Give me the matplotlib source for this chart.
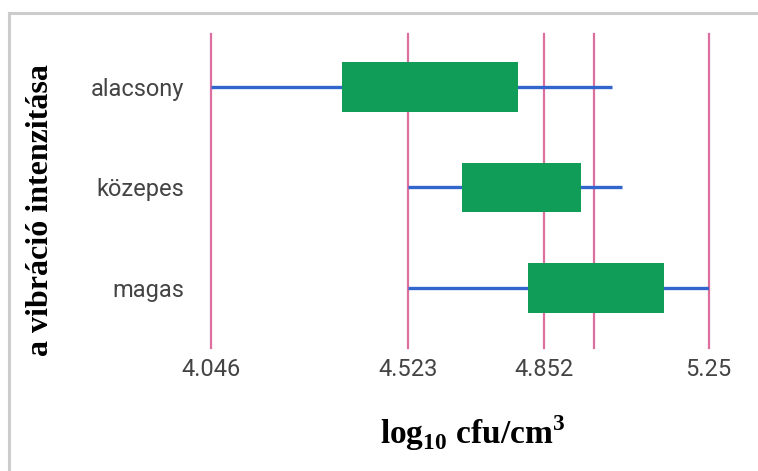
import matplotlib.pyplot as plt
from matplotlib.lines import Line2D

categories = ['alacsony', 'közepes', 'magas']
mins = [4.046, 4.523, 4.523]
q1 = [4.364, 4.653, 4.813]
q3 = [4.788, 4.942, 5.142]
maxs = [5.017, 5.041, 5.25]

tick_vals = [4.046, 4.523, 4.852, 4.973, 5.25]
tick_labels = ['4.046', '4.523', '4.852', '', '5.25']

fig = plt.figure(figsize=(7.58, 4.71), dpi=100)
ax = fig.add_axes([0.2781, 0.2611, 0.6566, 0.6667])

ypos = list(range(len(categories)))
ax.hlines(ypos, mins, maxs, color='#3366cc', linewidth=2.4, zorder=2)
widths = [b - a for a, b in zip(q1, q3)]
ax.barh(ypos, widths, left=q1, height=0.49, color='#109d58', zorder=3)

ax.set_xlim(4.046, 5.25)
ax.set_ylim(2.597, -0.527)
ax.set_xticks(tick_vals)
ax.set_xticklabels(tick_labels)
ax.set_yticks(ypos)
ax.set_yticklabels(categories)
ax.tick_params(length=0, labelsize=17, labelcolor='#444444')
ax.tick_params(axis='x', pad=7)
ax.tick_params(axis='y', pad=19)
for lab in ax.get_xticklabels() + ax.get_yticklabels():
    lab.set_family('Roboto')
ax.grid(axis='x', color='#db6fa0', linewidth=1.6)
for gl in ax.get_xgridlines():
    gl.set_clip_on(False)
ax.set_axisbelow(True)
for s in ax.spines.values():
    s.set_visible(False)

plt.rcParams['mathtext.fontset'] = 'custom'
plt.rcParams['mathtext.rm'] = 'Liberation Serif:bold'
plt.rcParams['mathtext.bf'] = 'Liberation Serif:bold'
fig.text(0.623, 0.08, r'log$_{\mathregular{10}}$ cfu/cm$^{\mathregular{3}}$',
         ha='center', va='center', fontsize=24, fontweight='bold',
         family='Liberation Serif')
fig.text(0.053, 0.555, 'a vibráció intenzitása', rotation=90,
         ha='center', va='center', fontsize=23, fontweight='bold',
         family='Liberation Serif')

# outer frame (top and left only)
fig.add_artist(Line2D([9 / 758, 1], [1 - 13 / 471, 1 - 13 / 471],
                      color='#cccccc', linewidth=2.2, transform=fig.transFigure))
fig.add_artist(Line2D([9 / 758, 9 / 758], [0, 1 - 13 / 471],
                      color='#cccccc', linewidth=2.2, transform=fig.transFigure))

fig.savefig('out.png', dpi=100)
